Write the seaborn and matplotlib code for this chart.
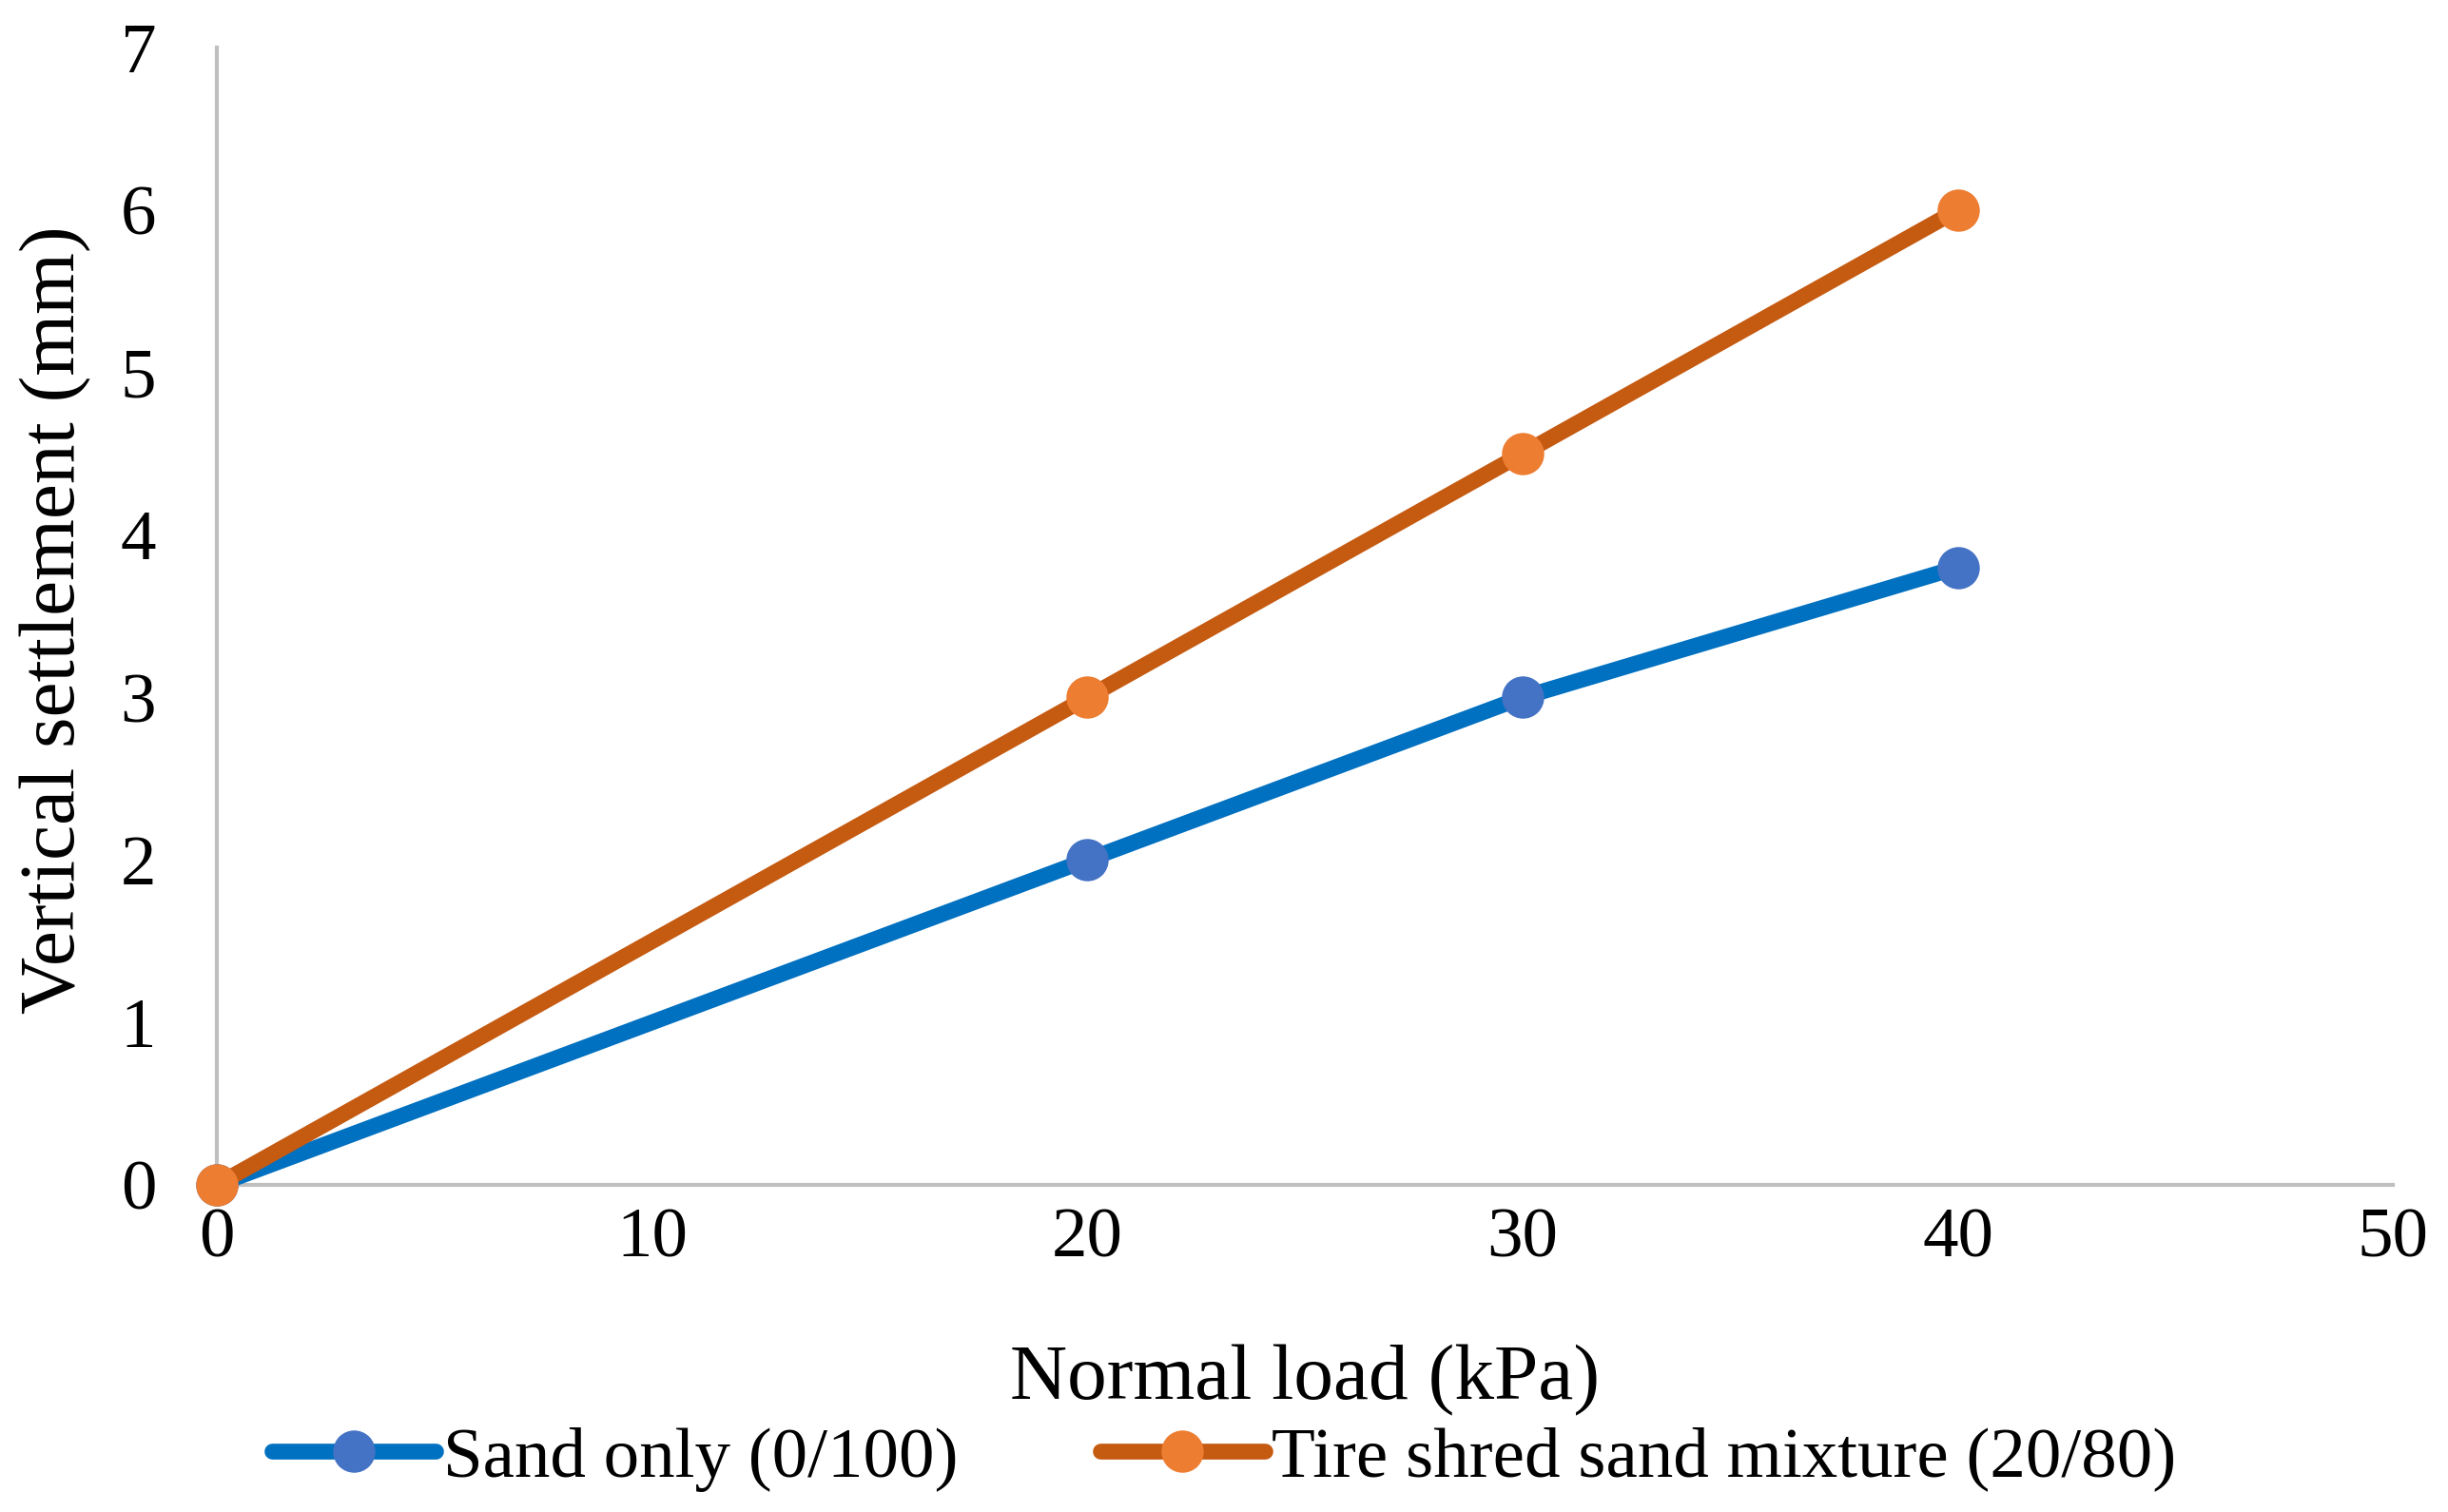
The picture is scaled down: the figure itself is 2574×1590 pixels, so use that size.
import numpy as np
import pandas as pd
import matplotlib
matplotlib.use("Agg")
import matplotlib.pyplot as plt
import seaborn as sns

# values
normal_load = [0, 20, 30, 40]
sand_only = [0, 2, 3, 3.8]
tire_mix = [0, 3, 4.5, 6]
series_names = ["Sand only (0/100)", "Tire shred sand mixture (20/80)"]
x_ticks = [0, 10, 20, 30, 40, 50]
y_ticks = [0, 1, 2, 3, 4, 5, 6, 7]

sns.set_theme(style="white")
plt.rcParams['font.family'] = ['Liberation Serif', 'DejaVu Serif']
plt.rcParams['text.color'] = 'black'
plt.rcParams['axes.labelcolor'] = 'black'
plt.rcParams['xtick.color'] = 'black'
plt.rcParams['ytick.color'] = 'black'

fig = plt.figure(figsize=(25.74, 15.9), dpi=100)
ax = fig.add_axes([0.0886, 0.2164, 0.889, 0.7522])

df = pd.DataFrame({"load": normal_load, "sand": sand_only, "tire": tire_mix})

line_cols = ["#0070C0", "#C55A11"]
mark_cols = ["#4472C4", "#ED7D31"]

for col, name, lc, mc in zip(["sand", "tire"], series_names, line_cols, mark_cols):
    sns.lineplot(data=df, x="load", y=col, ax=ax, color=lc, linewidth=12,
                 marker="o", markersize=32, markerfacecolor=mc,
                 markeredgewidth=0, label=name, clip_on=False)

ax.set_xlim(0, 50)
ax.set_ylim(0, 7)
ax.set_xticks(x_ticks)
ax.set_yticks(y_ticks)
ax.tick_params(axis="x", length=0, pad=17, labelsize=54, colors="black")
ax.tick_params(axis="y", length=0, pad=46, labelsize=54, colors="black")

for s in ["top", "right"]:
    ax.spines[s].set_visible(False)
for s in ["left", "bottom"]:
    ax.spines[s].set_color("#BFBFBF")
    ax.spines[s].set_linewidth(3)
    ax.spines[s].set_zorder(0)

ax.set_xlabel("Normal load (kPa)", fontsize=60, color="black")
ax.set_ylabel("Vertical settlement (mm)", fontsize=60, color="black")
ax.xaxis.set_label_coords(0.5, -0.172)
ax.xaxis.label.set_va("center")
ax.yaxis.set_label_coords(-0.074, 0.497)
ax.yaxis.label.set_va("center")

leg = ax.legend(loc="center", bbox_to_anchor=(0.5, 0.035), bbox_transform=fig.transFigure,
                ncol=2, frameon=False, fontsize=54, handlelength=2.3, handletextpad=0.1,
                columnspacing=2.0, borderaxespad=0)
for t in leg.get_texts():
    t.set_color("black")

fig.savefig("out.png", dpi=100)
